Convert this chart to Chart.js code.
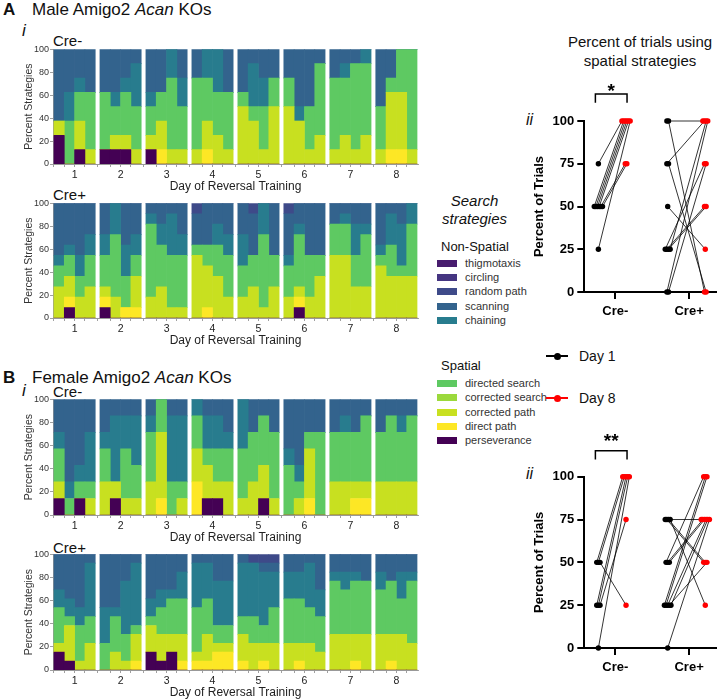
<!DOCTYPE html>
<html>
<head>
<meta charset="utf-8">
<script src="https://cdn.jsdelivr.net/npm/chart.js@4.4.1/dist/chart.umd.min.js"></script>
<style>
html,body{margin:0;padding:0;background:#fff;}
body{width:720px;height:699px;position:relative;overflow:hidden;font-family:"Liberation Sans",Arial,Helvetica,sans-serif;color:#111;}
.t{position:absolute;line-height:1;white-space:nowrap;}
canvas{position:absolute;}
.sw{position:absolute;width:20px;height:7px;left:437px;}
.lt{position:absolute;left:465px;font-size:11px;line-height:1;color:#333;white-space:nowrap;}
</style>
</head>
<body>
<!-- Panel titles -->
<div class="t" style="left:3px;top:0.5px;font-size:17px;font-weight:bold;">A</div>
<div class="t" style="left:32px;top:0.7px;font-size:17px;">Male Amigo2 <i>Acan</i> KOs</div>
<div class="t" style="left:22px;top:21.5px;font-size:17px;font-style:italic;">i</div>
<div class="t" style="left:53px;top:33.3px;font-size:15px;">Cre-</div>
<div class="t" style="left:53px;top:186.7px;font-size:15px;">Cre+</div>

<div class="t" style="left:3px;top:368.5px;font-size:17px;font-weight:bold;">B</div>
<div class="t" style="left:32px;top:368.5px;font-size:17px;">Female Amigo2 <i>Acan</i> KOs</div>
<div class="t" style="left:22px;top:381.7px;font-size:17px;font-style:italic;">i</div>
<div class="t" style="left:53px;top:383.5px;font-size:15px;">Cre-</div>
<div class="t" style="left:53px;top:539.7px;font-size:15px;">Cre+</div>

<!-- strategy legend -->
<div class="t" style="left:424px;width:101px;text-align:center;top:192.5px;font-size:15px;font-style:italic;">Search</div>
<div class="t" style="left:424px;width:101px;text-align:center;top:210.8px;font-size:15px;font-style:italic;">strategies</div>
<div class="t" style="left:441px;top:239.5px;font-size:13px;">Non-Spatial</div>
<div id="legNon"></div>
<div class="t" style="left:441px;top:358.5px;font-size:13px;">Spatial</div>
<div id="legSpa"></div>

<!-- ii panels -->
<div class="t" style="left:566px;width:148px;text-align:center;top:34px;font-size:15px;">Percent of trials using</div>
<div class="t" style="left:566px;width:148px;text-align:center;top:53px;font-size:15px;">spatial strategies</div>
<div class="t" style="left:526px;top:112px;font-size:16px;font-style:italic;">ii</div>
<div class="t" style="left:526px;top:466px;font-size:16px;font-style:italic;">ii</div>

<!-- Day legend -->
<div style="position:absolute;left:546px;top:355.3px;width:22px;height:1.5px;background:#000;"></div>
<div style="position:absolute;left:553.5px;top:352.5px;width:7px;height:7px;border-radius:50%;background:#000;"></div>
<div class="t" style="left:579px;top:349px;font-size:14px;">Day 1</div>
<div style="position:absolute;left:546px;top:397.3px;width:22px;height:1.5px;background:#ff0000;"></div>
<div style="position:absolute;left:553.5px;top:394.5px;width:7px;height:7px;border-radius:50%;background:#ff0000;"></div>
<div class="t" style="left:579px;top:391px;font-size:14px;">Day 8</div>

<canvas id="aMinus"></canvas>
<canvas id="aPlus"></canvas>
<canvas id="bMinus"></canvas>
<canvas id="bPlus"></canvas>
<canvas id="aPairs"></canvas>
<canvas id="bPairs"></canvas>

<script>
// ---------------- DATA ----------------
const days = ['1','2','3','4','5','6','7','8'];
const trialsPerDay = 4;
const nonSpatialNames = ['thigmotaxis','circling','random path','scanning','chaining'];
const spatialNames = ['directed search','corrected search','corrected path','direct path','perseverance'];

// Number of mice per group (each bar = one trial; stack = share of mice per strategy)
const maleCreMinusN = 8;
const maleCrePlusN = 11;
const femaleCreMinusN = 7;
const femaleCrePlusN = 13;

// Male Cre-  (counts of mice, 4 trials x 8 days)
const maleCreMinus_perseverance = [2,0,1,0, 1,1,1,0, 1,0,0,0, 0,0,0,0, 0,0,0,0, 0,0,0,0, 0,0,0,0, 0,0,0,0];
const maleCreMinus_directPath   = [0,0,0,0, 0,0,0,0, 0,1,0,0, 0,1,0,0, 0,0,0,0, 0,0,0,0, 0,0,0,0, 0,1,1,0];
const maleCreMinus_corrPath     = [1,0,2,1, 0,1,1,1, 1,2,1,1, 1,2,2,1, 4,3,1,4, 4,3,1,2, 1,2,1,2, 1,4,4,1];
const maleCreMinus_directed     = [0,3,2,4, 4,2,3,3, 2,2,5,3, 5,3,3,4, 1,1,3,2, 2,0,3,5, 5,4,6,5, 3,1,3,7];
const maleCreMinus_chaining     = [0,2,1,0, 0,1,1,3, 1,0,2,2, 0,2,3,0, 0,3,2,0, 0,1,0,0, 0,1,0,1, 0,0,0,0];
const maleCreMinus_scanning     = [5,3,2,3, 3,3,2,1, 3,3,0,2, 2,0,0,3, 3,1,2,2, 2,4,4,1, 2,1,1,0, 4,2,0,0];

// Male Cre+
const maleCrePlus_perseverance = [0,1,0,0, 1,0,0,0, 0,0,0,0, 0,0,0,0, 0,0,0,0, 0,1,0,0, 0,0,0,0, 0,0,0,0];
const maleCrePlus_directPath   = [0,1,0,0, 1,0,1,1, 0,0,0,0, 0,1,0,0, 0,0,0,0, 0,1,0,0, 0,0,0,0, 0,0,0,0];
const maleCrePlus_corrPath     = [3,2,2,3, 1,2,0,3, 2,3,1,1, 6,4,4,2, 2,3,1,3, 2,1,2,4, 6,6,3,3, 5,4,4,4];
const maleCrePlus_directed     = [2,2,2,3, 3,6,3,2, 7,4,5,5, 1,2,3,4, 3,3,7,3, 3,5,4,2, 3,3,3,5, 1,3,1,5];
const maleCrePlus_chaining     = [1,1,2,2, 2,3,3,2, 1,2,4,2, 0,0,2,2, 3,0,3,0, 1,1,0,0, 0,1,3,1, 1,3,4,2];
const maleCrePlus_scanning     = [5,4,5,3, 3,0,4,3, 1,2,1,3, 3,4,2,3, 3,4,0,5, 4,2,5,5, 2,1,2,2, 4,1,2,0];
const maleCrePlus_randomPath   = [0,0,0,0, 0,0,0,0, 0,0,0,0, 1,0,0,0, 0,1,0,0, 1,0,0,0, 0,0,0,0, 0,0,0,0];

// Female Cre-
const femaleCreMinus_perseverance = [1,0,1,0, 0,1,0,0, 0,0,0,0, 0,1,1,0, 0,0,1,0, 0,0,0,0, 0,0,0,0, 0,0,0,0];
const femaleCreMinus_directPath   = [0,0,0,0, 0,0,0,0, 0,1,0,0, 2,0,0,0, 0,0,0,0, 0,0,1,0, 0,0,1,1, 0,0,0,0];
const femaleCreMinus_corrPath     = [1,0,0,1, 2,1,1,1, 2,4,0,1, 2,2,1,2, 1,2,2,1, 0,1,3,0, 2,2,1,1, 2,2,2,2];
const femaleCreMinus_directed     = [2,1,1,1, 2,0,3,2, 3,2,2,1, 2,1,2,2, 3,3,3,4, 3,1,1,5, 3,3,3,4, 3,4,3,4];
const femaleCreMinus_chaining     = [1,1,1,3, 1,4,2,3, 1,0,4,4, 1,2,2,1, 3,0,0,0, 1,1,0,0, 0,1,0,0, 0,0,1,0];
const femaleCreMinus_scanning     = [2,5,4,2, 2,1,1,1, 1,0,1,1, 0,1,1,2, 0,2,1,2, 3,4,2,2, 2,1,2,1, 2,1,1,1];

// Female Cre+
const femaleCrePlus_perseverance = [2,1,0,0, 0,0,0,0, 2,1,2,0, 0,0,0,0, 0,0,0,0, 0,0,0,0, 0,0,0,0, 0,0,0,0];
const femaleCrePlus_directPath   = [0,0,0,0, 0,0,0,1, 0,0,0,1, 1,1,2,2, 1,0,1,0, 0,1,0,0, 0,0,1,0, 0,1,0,0];
const femaleCrePlus_corrPath     = [1,4,1,3, 0,2,1,3, 3,3,2,3, 1,3,1,1, 3,3,2,3, 3,2,3,2, 4,4,3,4, 4,3,4,3];
const femaleCrePlus_directed     = [4,1,4,3, 3,4,3,1, 1,3,4,4, 5,4,2,2, 2,3,2,4, 5,5,4,4, 6,5,6,6, 5,6,4,7];
const femaleCrePlus_chaining     = [2,2,2,6, 4,1,6,7, 2,2,1,3, 5,4,5,5, 6,6,6,4, 3,3,5,3, 1,2,1,0, 2,0,3,1];
const femaleCrePlus_scanning     = [4,5,6,1, 6,6,3,1, 5,4,4,2, 1,1,3,3, 1,0,1,1, 2,2,1,4, 2,2,2,3, 2,3,2,2];
const femaleCrePlus_randomPath   = [0,0,0,0, 0,0,0,0, 0,0,0,0, 0,0,0,0, 0,1,1,1, 0,0,0,0, 0,0,0,0, 0,0,0,0];

// Percent of trials using spatial strategies (each index = one mouse)
const maleCreMinusDay1 = [75,50,50,50,50,50,50,25];
const maleCreMinusDay8 = [100,100,100,100,100,75,75,100];
const maleCrePlusDay1  = [100,100,75,75,50,25,25,25,25,0,0];
const maleCrePlusDay8  = [100,0,100,0,25,75,50,50,100,100,75];
const femaleCreMinusDay1 = [50,50,50,25,25,25,0];
const femaleCreMinusDay8 = [100,100,25,100,100,75,100];
const femaleCrePlusDay1  = [75,75,75,75,50,50,50,25,25,25,25,25,0];
const femaleCrePlusDay8  = [75,50,50,25,100,75,75,100,100,75,50,75,75];
const pairTicks = [0,25,50,75,100];
const groupLabels = ['Cre-','Cre+'];

// ---------------- STYLE ----------------
const FONT = '"Liberation Sans", Arial, Helvetica, sans-serif';
const COLORS = {
  'thigmotaxis':'#481c6e', 'circling':'#453581', 'random path':'#3e4a89', 'scanning':'#33638d',
  'chaining':'#287c8e', 'directed search':'#5ec962', 'corrected search':'#9bd93c',
  'corrected path':'#c8e020', 'direct path':'#fde725', 'perseverance':'#440154'
};

// legend swatches
function buildLegend(el, names, centers){
  let h='';
  names.forEach((n,i)=>{
    h += `<div class="sw" style="top:${centers[i]-3.5}px;background:${COLORS[n]}"></div>`;
    h += `<div class="lt" style="top:${centers[i]-5.5}px">${n}</div>`;
  });
  document.getElementById(el).innerHTML = h;
}
buildLegend('legNon', nonSpatialNames, [263.3,277.6,291.8,306.1,320.3]);
buildLegend('legSpa', spatialNames, [383.5,397.8,412,426.3,440.5]);

// ---------------- STACKED BAR CHARTS ----------------
const X_MIN = 0.53, X_MAX = 8.47, BAR_UNIT = 0.2245;
const PLOT_L = 53, PLOT_R = 418;
const BAR_PX = BAR_UNIT * (PLOT_R - PLOT_L) / (X_MAX - X_MIN);
function barX(i){ const d = Math.floor(i/trialsPerDay)+1, t = i%trialsPerDay; return d + (t-(trialsPerDay-1)/2)*BAR_UNIT; }
const xTickList = [];
for (let i=0;i<days.length*trialsPerDay;i++) xTickList.push({value: barX(i)});
days.forEach((d,i)=>xTickList.push({value: i+1}));

function stackedChart(id, plotTop, plotBottom, nMice, series){
  const top = Math.round(plotTop - 9);
  const padTop = plotTop - top, axisH = 31, padLeft = 18;
  const W = PLOT_R + 2;
  const H = Math.ceil(plotBottom - top + axisH);
  const cv = document.getElementById(id);
  cv.width = W; cv.height = H;
  cv.style.left = '0px'; cv.style.top = top+'px'; cv.style.width = W+'px'; cv.style.height = H+'px';
  const datasets = series.map(([name, counts]) => ({
    label: name,
    data: counts.map((c,i)=>({x: barX(i), y: c / nMice * 100})),
    backgroundColor: COLORS[name],
    borderWidth: 0,
    barThickness: BAR_PX
  }));
  new Chart(cv, {
    type:'bar',
    data:{datasets},
    options:{
      responsive:false, animation:false, events:[],
      layout:{padding:{left:padLeft, right:W-PLOT_R, top:padTop, bottom:0}},
      plugins:{legend:{display:false}, tooltip:{enabled:false}},
      scales:{
        x:{type:'linear', stacked:true, min:X_MIN, max:X_MAX, offset:false,
          afterBuildTicks: s => { s.ticks = xTickList.map(t=>({value:t.value})); },
          ticks:{autoSkip:false, maxRotation:0, minRotation:0, padding:2, color:'#222',
                 font:{family:FONT, size:10.5},
                 callback: v => Number.isInteger(v) ? days[v-1] : ''},
          grid:{drawOnChartArea:false, drawTicks:true, tickLength:3, lineWidth:0.8,
                color: c => (c.tick && Number.isInteger(c.tick.value)) ? 'rgba(0,0,0,0)' : '#888'},
          border:{display:true, color:'#999', width:1},
          title:{display:true, text:'Day of Reversal Training', color:'#222',
                 font:{family:FONT, size:12}, padding:{top:0, bottom:1.5}},
          afterFit: s => { s.height = axisH; }
        },
        y:{stacked:true, min:0, max:100,
          ticks:{stepSize:20, padding:1, color:'#333', font:{family:FONT, size:9}},
          grid:{drawOnChartArea:false, drawTicks:true, tickLength:3, color:'#888', lineWidth:0.8},
          border:{display:true, color:'#999', width:1},
          title:{display:true, text:'Percent Strategies', color:'#333',
                 font:{family:FONT, size:10.5}, padding:{top:5, bottom:0}},
          afterFit: s => { s.width = PLOT_L - padLeft; }
        }
      }
    }
  });
}

stackedChart('aMinus', 49.3, 163.7, maleCreMinusN, [
  ['perseverance', maleCreMinus_perseverance], ['direct path', maleCreMinus_directPath],
  ['corrected path', maleCreMinus_corrPath], ['directed search', maleCreMinus_directed],
  ['chaining', maleCreMinus_chaining], ['scanning', maleCreMinus_scanning]]);
stackedChart('aPlus', 203.3, 317.7, maleCrePlusN, [
  ['perseverance', maleCrePlus_perseverance], ['direct path', maleCrePlus_directPath],
  ['corrected path', maleCrePlus_corrPath], ['directed search', maleCrePlus_directed],
  ['chaining', maleCrePlus_chaining], ['scanning', maleCrePlus_scanning],
  ['random path', maleCrePlus_randomPath]]);
stackedChart('bMinus', 399.3, 514.3, femaleCreMinusN, [
  ['perseverance', femaleCreMinus_perseverance], ['direct path', femaleCreMinus_directPath],
  ['corrected path', femaleCreMinus_corrPath], ['directed search', femaleCreMinus_directed],
  ['chaining', femaleCreMinus_chaining], ['scanning', femaleCreMinus_scanning]]);
stackedChart('bPlus', 554.3, 670, femaleCrePlusN, [
  ['perseverance', femaleCrePlus_perseverance], ['direct path', femaleCrePlus_directPath],
  ['corrected path', femaleCrePlus_corrPath], ['directed search', femaleCrePlus_directed],
  ['chaining', femaleCrePlus_chaining], ['scanning', femaleCrePlus_scanning],
  ['random path', femaleCrePlus_randomPath]]);

// ---------------- PAIRED DOT CHARTS ----------------
const PX_PER_UNIT = 76;
const PX_MIN = 0.579, PX_MAX = 2.365;
const POS = {minusD1: 0.77, minusD8: 1.145, plusD1: 1.71, plusD8: 2.22};
const JIT = 1.7 / PX_PER_UNIT;
function spread(vals, base){
  const cnt = {}, seen = {};
  vals.forEach(v => cnt[v] = (cnt[v]||0)+1);
  return vals.map(v => { seen[v] = (seen[v]===undefined) ? 0 : seen[v]+1; return base + (seen[v] - (cnt[v]-1)/2) * JIT; });
}

const sigPlugin = {
  id:'sig',
  afterDraw(chart, args, opts){
    const {ctx, scales:{x, y}} = chart;
    const x1 = x.getPixelForValue(POS.minusD1) - 3, x2 = x.getPixelForValue(POS.minusD8) + 1;
    const yb = y.getPixelForValue(100) - opts.gap;
    ctx.save();
    ctx.strokeStyle = '#000'; ctx.lineWidth = 1.5;
    ctx.beginPath(); ctx.moveTo(x1, yb+8.7); ctx.lineTo(x1, yb); ctx.lineTo(x2, yb); ctx.lineTo(x2, yb+8.7); ctx.stroke();
    ctx.fillStyle = '#000'; ctx.font = 'bold 19px ' + FONT; ctx.textAlign = 'center'; ctx.textBaseline = 'alphabetic';
    ctx.fillText(opts.text, (x1+x2)/2, yb + opts.starDy);
    ctx.restore();
  }
};

function pairChart(id, plotTop, plotBottom, groups, sig){
  const top = Math.round(plotTop - 50);
  const padTop = plotTop - top, axisH = 40, padLeft = 8;
  const left = 520, W = 200;
  const H = Math.ceil(plotBottom - top + axisH);
  const cv = document.getElementById(id);
  cv.width = W; cv.height = H;
  cv.style.left = left+'px'; cv.style.top = top+'px'; cv.style.width = W+'px'; cv.style.height = H+'px';
  const lines = [], d1pts = [], d8pts = [];
  groups.forEach(g => {
    const xa = spread(g.d1, g.x1), xb = spread(g.d8, g.x8);
    g.d1.forEach((v,i) => {
      lines.push({type:'scatter', showLine:true, data:[{x:xa[i], y:v},{x:xb[i], y:g.d8[i]}],
        borderColor:'#000', borderWidth:0.8, pointRadius:0, order:2, clip:false});
      d1pts.push({x:xa[i], y:v});
      d8pts.push({x:xb[i], y:g.d8[i]});
    });
  });
  const datasets = [
    {label:'Day 1', data:d1pts, backgroundColor:'#000', pointBackgroundColor:'#000', pointBorderWidth:0, pointRadius:2.7, order:1, clip:false},
    {label:'Day 8', data:d8pts, backgroundColor:'#ff0000', pointBackgroundColor:'#ff0000', pointBorderWidth:0, pointRadius:2.7, order:0, clip:false},
    ...lines
  ];
  new Chart(cv, {
    type:'scatter',
    data:{datasets},
    plugins:[sigPlugin],
    options:{
      responsive:false, animation:false, events:[],
      layout:{padding:{left:padLeft, right:0, top:padTop, bottom:0}},
      plugins:{legend:{display:false}, tooltip:{enabled:false}, sig:sig},
      scales:{
        x:{type:'linear', min:PX_MIN, max:PX_MAX,
          afterBuildTicks: s => { s.ticks = [{value:1},{value:2}]; },
          ticks:{autoSkip:false, maxRotation:0, padding:5, color:'#000',
                 font:{family:FONT, size:13, weight:'bold'},
                 callback: v => groupLabels[v-1] || ''},
          grid:{drawOnChartArea:false, drawTicks:true, tickLength:7, lineWidth:2, color:'#000'},
          border:{display:true, color:'#000', width:2},
          afterFit: s => { s.height = axisH; }
        },
        y:{min:0, max:100,
          afterBuildTicks: s => { s.ticks = pairTicks.map(v=>({value:v})); },
          ticks:{padding:3, color:'#000', font:{family:FONT, size:13, weight:'bold'}},
          grid:{drawOnChartArea:false, drawTicks:true, tickLength:7, lineWidth:2, color:'#000'},
          border:{display:true, color:'#000', width:2},
          title:{display:true, text:'Percent of Trials', color:'#000',
                 font:{family:FONT, size:13, weight:'bold'}, padding:{top:4, bottom:0}},
          afterFit: s => { s.width = 584.3 - left - padLeft; }
        }
      }
    }
  });
}

pairChart('aPairs', 121, 291.7, [
  {d1:maleCreMinusDay1, d8:maleCreMinusDay8, x1:POS.minusD1, x8:POS.minusD8},
  {d1:maleCrePlusDay1,  d8:maleCrePlusDay8,  x1:POS.plusD1,  x8:POS.plusD8}
], {text:'*', gap:27, starDy:3});
pairChart('bPairs', 476.7, 647.7, [
  {d1:femaleCreMinusDay1, d8:femaleCreMinusDay8, x1:POS.minusD1, x8:POS.minusD8},
  {d1:femaleCrePlusDay1,  d8:femaleCrePlusDay8,  x1:POS.plusD1,  x8:POS.plusD8}
], {text:'**', gap:26, starDy:-4});
</script>
</body>
</html>
